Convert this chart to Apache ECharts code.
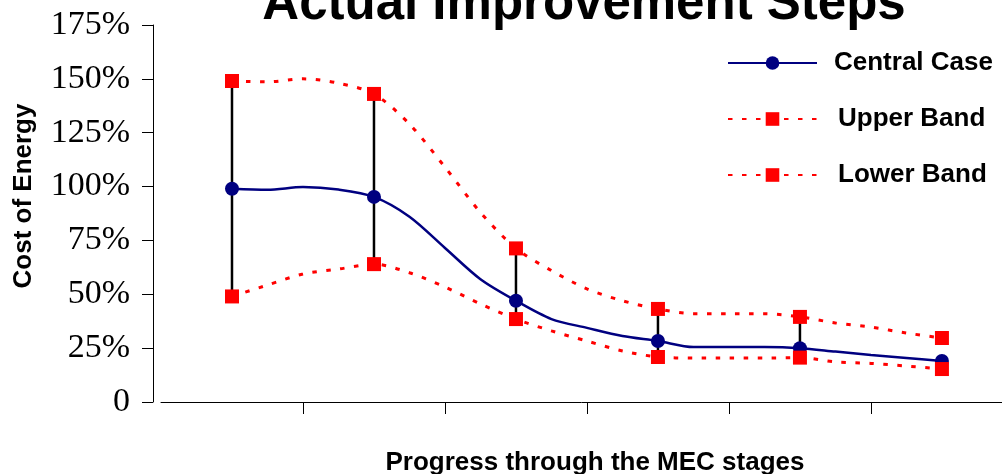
<!DOCTYPE html>
<html>
<head>
<meta charset="utf-8">
<script src="https://cdn.jsdelivr.net/npm/echarts@6/dist/echarts.min.js"></script>
<style>
html,body{margin:0;padding:0;background:#fff;}
#c{width:1002px;height:474px;}
</style>
</head>
<body>
<div id="c"></div>
<script>
// Positions along the x axis (stage units)
const steps = [0.5, 0.75, 1.0, 1.25, 1.5, 1.75, 2.0, 2.25, 2.5, 2.75, 3.0, 3.25, 3.5, 3.75, 4.0, 4.25, 4.5, 4.75, 5.0, 5.25, 5.5];
// Stage points (where markers are drawn)
const stageX = [0.5, 1.5, 2.5, 3.5, 4.5, 5.5];
// Stages with a vertical range bar
const errorBarX = [0.5, 1.5, 2.5, 3.5, 4.5];

const centralCase = [99, 98.5, 99.8, 98.6, 95.2, 86, 71.5, 57, 47, 38.5, 34.4, 30.6, 28.3, 25.5, 25.5, 25.5, 25, 23.4, 21.8, 20.4, 19];
const upperBand   = [149, 148.6, 150, 148, 143, 129, 109, 88, 71.3, 61, 52.5, 47, 43.2, 41, 41, 41, 39.5, 36.7, 34.8, 32, 29.7];
const lowerBand   = [49, 54.3, 59.4, 61.7, 64, 60, 53.4, 45.5, 38.5, 33, 28.3, 23.7, 20.9, 20.4, 20.4, 20.4, 20.6, 18.6, 17.9, 16.7, 15.3];

const yTicks = [0, 25, 50, 75, 100, 125, 150, 175];
const xTicks = [1, 2, 3, 4, 5];
// visible end of the x axis (the axis runs off the right edge of the picture)
const xVisibleMax = 5.923;

const titleText = 'Actual Improvement Steps';
const yTitle = 'Cost of Energy';
const xTitle = 'Progress through the MEC stages';
const seriesNames = ['Central Case', 'Upper Band', 'Lower Band'];

function toData(vals, sym) {
  return steps.map((x, i) => ({
    value: [x, vals[i]],
    symbol: stageX.indexOf(x) >= 0 ? sym : 'none'
  }));
}
const errData = errorBarX.map(x => {
  const i = steps.indexOf(x);
  return [x, lowerBand[i], upperBand[i]];
});

const SANS = '"Liberation Sans", Arial, sans-serif';
const SERIF = '"Liberation Serif", "Times New Roman", serif';
const redDash = [4.5, 9.5];

const chart = echarts.init(document.getElementById('c'), null, {renderer: 'canvas'});
chart.setOption({
  animation: false,
  backgroundColor: '#fff',
  grid: {left: 161, right: 0, top: 25, height: 377, containLabel: false},
  xAxis: {
    type: 'value', min: 0, max: xVisibleMax,
    axisLine: {show: true, onZero: false, lineStyle: {color: '#000', width: 1}},
    axisTick: {show: true, inside: false, length: 12, customValues: xTicks, lineStyle: {color: '#000', width: 1}},
    axisLabel: {show: false},
    splitLine: {show: false}
  },
  yAxis: {
    type: 'value', min: 0, max: 175, interval: 25, offset: 8,
    axisLine: {show: true, onZero: false, lineStyle: {color: '#000', width: 1}},
    axisTick: {show: true, inside: false, length: 11, lineStyle: {color: '#000', width: 1}},
    axisLabel: {
      show: true, margin: 23, color: '#000',
      fontFamily: SERIF, fontSize: 34,
      customValues: yTicks,
      formatter: v => (v === 0 ? '0' : v + '%')
    },
    splitLine: {show: false}
  },
  legend: {
    orient: 'vertical', left: 727, top: 50, padding: 0,
    itemWidth: 89, itemHeight: 17, itemGap: 30,
    textStyle: {fontFamily: SANS, fontWeight: 'bold', fontSize: 26, color: '#000', padding: [0, 0, 0, 12]},
    data: [
      {name: seriesNames[0]},
      {name: seriesNames[1], textStyle: {padding: [0, 0, 0, 16]}},
      {name: seriesNames[2], textStyle: {padding: [0, 0, 0, 16]}}
    ]
  },
  graphic: [
    {type: 'text', x: 584, y: 5, z: 100,
     style: {text: titleText, textAlign: 'center', textVerticalAlign: 'middle', font: 'bold 51px ' + SANS, fill: '#000'}},
    {type: 'text', x: 24, y: 196, rotation: Math.PI / 2, z: 100,
     style: {text: yTitle, textAlign: 'center', textVerticalAlign: 'middle', font: 'bold 26px ' + SANS, fill: '#000'}},
    {type: 'text', x: 595, y: 463, z: 100,
     style: {text: xTitle, textAlign: 'center', textVerticalAlign: 'middle', font: 'bold 26px ' + SANS, fill: '#000'}}
  ],
  series: [
    {
      type: 'custom', name: 'range', z: 1, silent: true,
      data: errData,
      encode: {x: 0, y: [1, 2]},
      renderItem: (params, api) => {
        const x = api.value(0);
        const p1 = api.coord([x, api.value(1)]);
        const p2 = api.coord([x, api.value(2)]);
        return {type: 'line', shape: {x1: p1[0], y1: p1[1], x2: p2[0], y2: p2[1]},
                style: {stroke: '#000', lineWidth: 2.5}};
      }
    },
    {
      type: 'line', name: seriesNames[0], z: 2,
      data: toData(centralCase, 'circle'),
      symbol: 'circle', symbolSize: 14, showSymbol: true, showAllSymbol: true,
      smooth: 0.3, clip: false,
      lineStyle: {color: '#000080', width: 2.5},
      itemStyle: {color: '#000080'}
    },
    {
      type: 'line', name: seriesNames[1], z: 3,
      data: toData(upperBand, 'rect'),
      symbol: 'rect', symbolSize: 14, showSymbol: true, showAllSymbol: true,
      smooth: 0.3, clip: false,
      lineStyle: {color: '#FF0000', width: 3, type: redDash},
      itemStyle: {color: '#FF0000'}
    },
    {
      type: 'line', name: seriesNames[2], z: 4,
      data: toData(lowerBand, 'rect'),
      symbol: 'rect', symbolSize: 14, showSymbol: true, showAllSymbol: true,
      smooth: 0.3, clip: false,
      lineStyle: {color: '#FF0000', width: 3, type: redDash},
      itemStyle: {color: '#FF0000'}
    }
  ]
});
</script>
</body>
</html>
